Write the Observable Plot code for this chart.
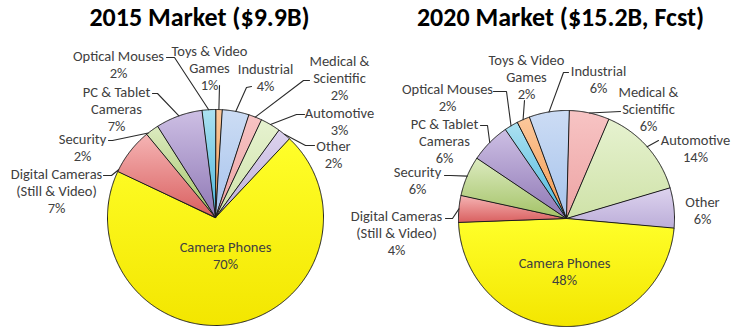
<!DOCTYPE html>
<html><head><meta charset="utf-8">
<script src="https://cdn.jsdelivr.net/npm/d3@7"></script>
<script src="https://cdn.jsdelivr.net/npm/@observablehq/plot@0.6"></script>
<style>body{margin:0;background:#fff}</style>
</head><body><div id="chart"></div>
<script>
// ---- data ----
const categories = ["Toys & Video\nGames", "Industrial", "Medical &\nScientific", "Automotive", "Other", "Camera Phones", "Digital Cameras\n(Still & Video)", "Security", "PC & Tablet\nCameras", "Optical Mouses"];
const keys = ["toys", "industrial", "medical", "automotive", "other", "phones", "digital", "security", "pc", "optical"];
const share2015 = [1, 4, 2, 3, 2, 70, 7, 2, 7, 2];
const share2020 = [2, 6, 6, 14, 6, 48, 4, 6, 6, 2];
const titles = ["2015 Market ($9.9B)", "2020 Market ($15.2B, Fcst)"];

// ---- styles ----
const gradTop = ["#fcc89c", "#ccdcf4", "#f7c4c4", "#e6f2d0", "#ddd3ee", "#ffff2a", "#f5b4b4", "#dcebc0", "#cdbfe4", "#ace1f1"];
const gradBottom = ["#f39a4e", "#a6c3ec", "#eda3a3", "#cfe2a8", "#bcaed9", "#f3e600", "#d95f5f", "#a3c266", "#8f78b5", "#4ab7dc"];

// ---- layout ----
const pies = [
  {values: share2015, cx: 215, cy: 217, r: 108, start: 0, tx: 199, ty: 17},
  {values: share2020, cx: 566, cy: 218, r: 108, start: -27.3, tx: 560, ty: 17}
];
// label block centers
const labelLayout = [
  [{x: 209, y: 67.5}, {x: 265, y: 76.5}, {x: 339, y: 77}, {x: 339, y: 120.5}, {x: 333, y: 154},
   {x: 225, y: 255}, {x: 56, y: 190}, {x: 82, y: 146.5}, {x: 116, y: 108}, {x: 118, y: 63.5}],
  [{x: 526, y: 76.5}, {x: 598, y: 79}, {x: 648, y: 108}, {x: 695, y: 147.5}, {x: 702, y: 209.5},
   {x: 564, y: 270.5}, {x: 396, y: 232}, {x: 417, y: 180}, {x: 444, y: 140}, {x: 447, y: 97}]
];
// leader label-side points; frac = where the leader meets the slice arc
const leaderLayout = [
  [{i: 0, pts: [[219, 85]], frac: 0.5}, {i: 1, pts: [[251, 86], [246, 87]], frac: 0.5},
   {i: 2, pts: [[309, 80], [303, 80]], frac: 0.5}, {i: 3, pts: [[304, 114], [296, 114]], frac: 0.5},
   {i: 4, pts: [[314, 145], [305, 145]], frac: 0.5}, {i: 6, pts: [[103, 175], [111, 175]], frac: 0.04},
   {i: 7, pts: [[108, 140], [112, 140]], frac: 0.15}, {i: 8, pts: [[152, 93], [157, 93]], frac: 0.5},
   {i: 9, pts: [[166, 57], [174, 57]], frac: 0.5}],
  [{i: 0, pts: [[524, 100]], frac: 0.5}, {i: 1, pts: [[568, 72], [563, 72]], frac: 0.5},
   {i: 2, pts: [[620, 111]], frac: 0.5}, {i: 3, pts: [[658, 140]], frac: 0.5},
   {i: 6, pts: [[445, 218], [452, 218]], frac: 0.5}, {i: 7, pts: [[444, 175], [450, 175]], frac: 0.5},
   {i: 8, pts: [[480, 125], [487, 125]], frac: 0.5}, {i: 9, pts: [[493, 91], [506, 91]], frac: 0.5}]
];
const font = "Carlito, Calibri, Lato, sans-serif";
const labelSize = 14.5;

// ---- build ----
const marks = [];
const labelRows = [];
const leaderRows = [];
const titleRows = [];
pies.forEach((p, pi) => {
  const a0 = p.start * Math.PI / 180;
  const arcs = d3.pie().sort(null).startAngle(a0).endAngle(a0 + 2 * Math.PI)(p.values);
  const pt = (a, r) => [p.cx + r * Math.sin(a), p.cy - r * Math.cos(a)];
  arcs.forEach((a, i) => {
    const id = `p${pi}-${i}`;
    const rows = [{id, x: p.cx, y: p.cy}];
    const n = Math.max(2, Math.ceil((a.endAngle - a.startAngle) / (Math.PI / 360)));
    for (let k = 0; k <= n; k++) {
      const [x, y] = pt(a.startAngle + (a.endAngle - a.startAngle) * k / n, p.r);
      rows.push({id, x, y});
    }
    marks.push(Plot.line(rows, {x: "x", y: "y", curve: "linear-closed", fill: `url(#g-${keys[i]})`, stroke: "#1c1c1c", strokeWidth: 1, strokeLinejoin: "round"}));
    const L = labelLayout[pi][i];
    labelRows.push({x: L.x, y: L.y, text: `${categories[i]}\n${p.values[i]}%`});
  });
  leaderLayout[pi].forEach((ld, j) => {
    const a = arcs[ld.i];
    const ang = a.startAngle + (a.endAngle - a.startAngle) * ld.frac;
    const end = pt(ang, p.r);
    const id = `l${pi}-${j}`;
    ld.pts.concat([end]).forEach(([x, y]) => leaderRows.push({id, x, y}));
  });
  titleRows.push({x: p.tx, y: p.ty, text: titles[pi]});
});

marks.push(Plot.line(leaderRows, {x: "x", y: "y", z: "id", stroke: "#2a2a2a", strokeWidth: 1.1}));
marks.push(Plot.text(labelRows, {x: "x", y: "y", text: "text", fontSize: labelSize, lineHeight: 1.17, fill: "#404040", fontFamily: font}));
marks.push(Plot.text(titleRows, {x: "x", y: "y", text: "text", fontSize: 26, fontWeight: "bold", fill: "#000", fontFamily: font}));

const svg = Plot.plot({
  width: 743, height: 335, margin: 0,
  x: {domain: [0, 743], range: [0, 743], axis: null},
  y: {domain: [0, 335], range: [0, 335], axis: null},
  style: {fontFamily: font, background: "#fff"},
  marks
});
const defs = d3.select(svg).insert("defs", ":first-child");
keys.forEach((k, i) => {
  const g = defs.append("linearGradient").attr("id", `g-${k}`).attr("x1", 0).attr("y1", 0).attr("x2", 0).attr("y2", 1);
  g.append("stop").attr("offset", "0%").attr("stop-color", gradTop[i]);
  g.append("stop").attr("offset", "100%").attr("stop-color", gradBottom[i]);
});
document.getElementById("chart").appendChild(svg);
</script>
</body></html>
